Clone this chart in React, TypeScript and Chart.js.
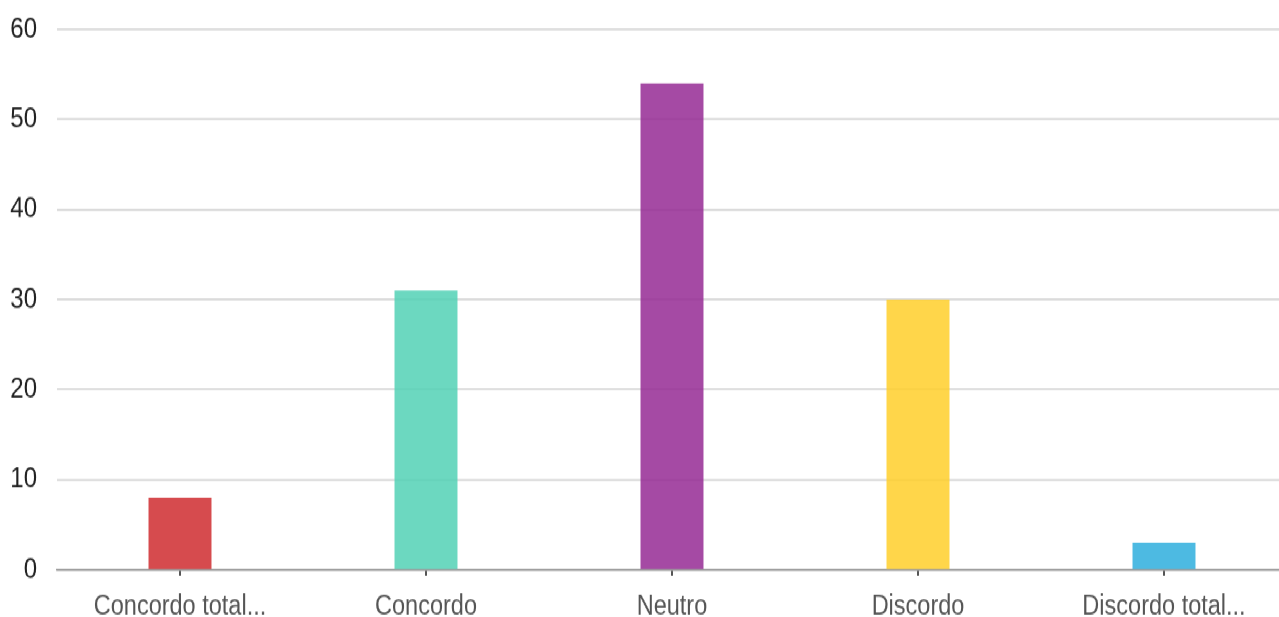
import React, { useEffect, useRef } from "react";
import { Chart, registerables } from "chart.js";

Chart.register(...registerables);

const categories = ["Concordo total...", "Concordo", "Neutro", "Discordo", "Discordo total..."];
const values = [8, 31, 54, 30, 3];
const barColors = [
  "rgba(207,43,47,0.85)",
  "rgba(82,209,181,0.85)",
  "rgba(149,42,148,0.85)",
  "rgba(255,207,42,0.85)",
  "rgba(46,174,221,0.85)",
];
const yMax = 60;
const yStep = 10;

const W = 1279;
const CW = 1287;
const H = 523;
const SCALE_Y = 617 / H;

export default function App() {
  const ref = useRef<HTMLCanvasElement | null>(null);
  useEffect(() => {
    document.body.style.margin = "0";
    const canvas = ref.current!;
    const chart = new Chart(canvas, {
      type: "bar",
      data: {
        labels: categories,
        datasets: [
          {
            data: values,
            backgroundColor: barColors,
            borderWidth: 0,
            barPercentage: 0.256,
            categoryPercentage: 1,
          },
        ],
      },
      options: {
        responsive: false,
        animation: false,
        devicePixelRatio: 1,
        layout: { padding: { left: 10, right: 0, top: 25, bottom: 0 } },
        plugins: { legend: { display: false }, tooltip: { enabled: false } },
        scales: {
          x: {
            afterFit: (s: any) => {
              s.height = 40;
            },
            grid: {
              offset: false,
              drawOnChartArea: false,
              drawTicks: true,
              tickLength: 5,
              color: "#555",
              lineWidth: 2,
            },
            border: { display: true, color: "#9e9e9e", width: 1.7 },
            ticks: {
              color: "#555",
              padding: 12,
              font: { family: "'Liberation Sans', Arial, sans-serif", size: 23.5 },
              maxRotation: 0,
              autoSkip: false,
            },
          },
          y: {
            min: 0,
            max: yMax,
            afterFit: (s: any) => {
              s.width = 47;
            },
            grid: {
              color: (ctx: any) => (ctx.tick && ctx.tick.value === 0 ? "#9e9e9e" : "#d9d9d9"),
              lineWidth: 1.7,
              drawTicks: true,
              tickLength: 20,
              tickColor: "rgba(0,0,0,0)",
            },
            border: { display: false },
            ticks: {
              stepSize: yStep,
              color: "#222",
              padding: 0,
              font: { family: "'Liberation Sans', Arial, sans-serif", size: 24 },
            },
          },
        },
      },
    });
    return () => chart.destroy();
  }, []);
  return (
    <div
      style={{
        position: "absolute",
        left: 0,
        top: 0,
        width: W,
        height: H,
        overflow: "hidden",
        transform: `scaleY(${SCALE_Y})`,
        transformOrigin: "0 0",
        background: "#fff",
      }}
    >
      <canvas ref={ref} width={CW} height={H} style={{ display: "block" }} />
    </div>
  );
}
